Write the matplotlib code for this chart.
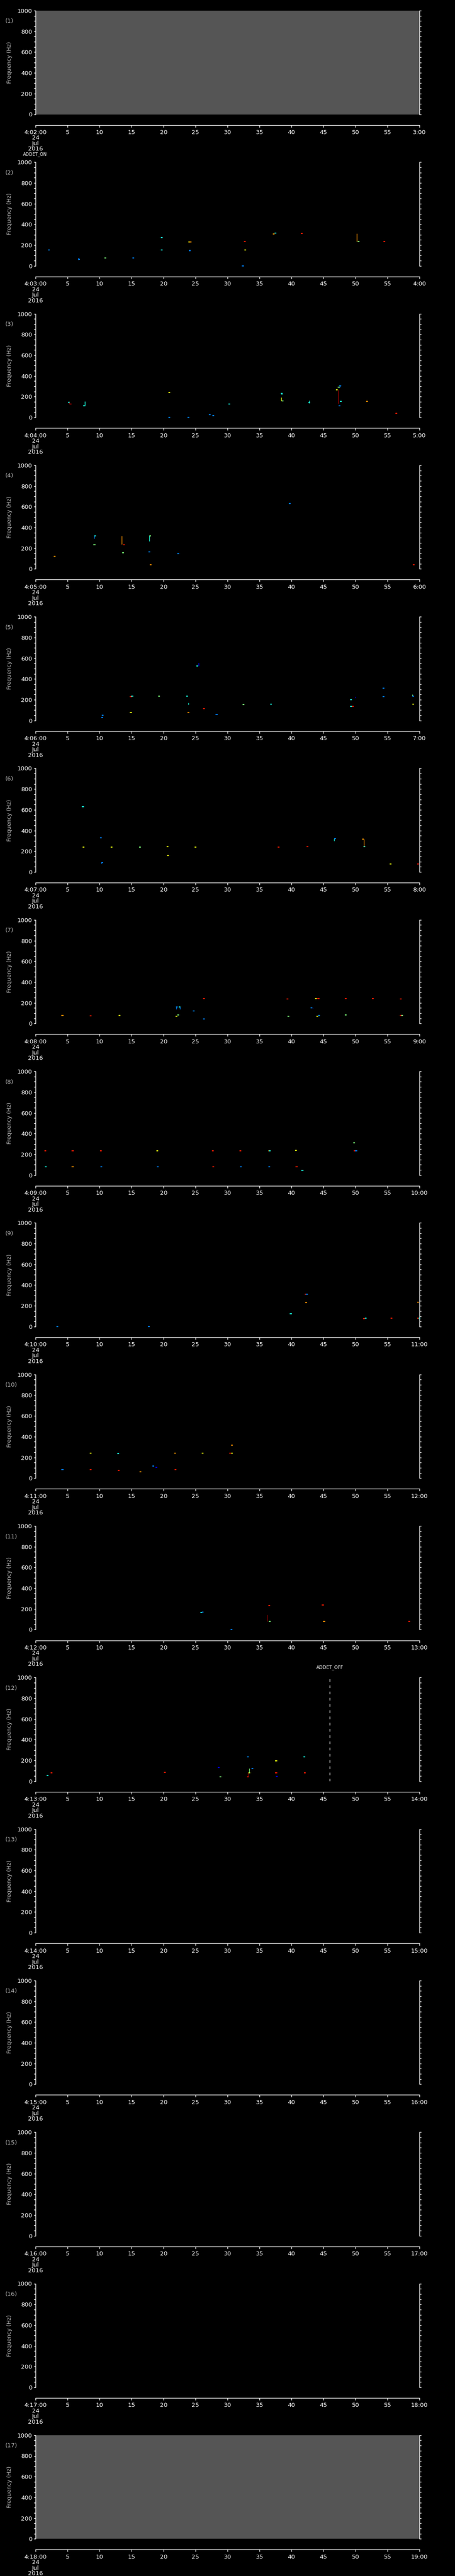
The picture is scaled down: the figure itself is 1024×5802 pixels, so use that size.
import numpy as np
import matplotlib
matplotlib.use("Agg")
import matplotlib.pyplot as plt
from matplotlib.ticker import MultipleLocator

# detected tones per one-minute panel: (second, frequency Hz, intensity code)
p02 = [(2.1, 152, 'b'), (6.8, 62, 'b'), (10.9, 75, 'g'), (15.3, 75, 'b'), (19.7, 272, 'c'),
       (19.7, 152, 'c'), (24.0, 232, 'y'), (24.2, 230, 'o'), (24.1, 150, 'b'), (32.4, 0, 'b'),
       (32.7, 235, 'r'), (32.8, 152, 'y'), (37.2, 308, 'o'), (37.5, 315, 'c'), (41.6, 312, 'r'),
       (50.5, 235, 'g'), (54.5, 235, 'r')]
p03 = [(5.2, 147, 'c'), (5.5, 131, 'R'), (7.6, 112, 'c'), (20.9, 240, 'y'), (20.9, 0, 'b'),
       (23.9, 0, 'b'), (27.2, 26, 'b'), (27.8, 16, 'b'), (30.3, 129, 'c'), (38.5, 232, 'c'),
       (38.6, 158, 'g'), (42.8, 140, 'c'), (47.6, 304, 'b'), (47.4, 290, 'g'), (47.1, 267, 'y'),
       (47.7, 155, 'c'), (47.5, 111, 'b'), (51.8, 155, 'o'), (56.4, 39, 'r')]
p04 = [(3.0, 123, 'o'), (9.3, 318, 'c'), (9.2, 235, 'g'), (13.8, 235, 'r'), (13.7, 156, 'g'),
       (17.9, 318, 'g'), (17.8, 163, 'b'), (18.0, 42, 'o'), (22.3, 148, 'b'), (39.7, 631, 'b'),
       (59.1, 42, 'r')]
p05 = [(10.5, 52, 'b'), (10.4, 27, 'b'), (14.9, 232, 'r'), (15.1, 235, 'c'), (14.9, 77, 'y'),
       (19.3, 235, 'g'), (23.7, 235, 'c'), (23.9, 77, 'o'), (25.3, 525, 'c'), (26.3, 116, 'r'),
       (28.3, 60, 'b'), (32.5, 155, 'g'), (36.8, 158, 'c'), (49.3, 200, 'c'), (49.3, 137, 'c'),
       (49.6, 137, 'r'), (54.4, 311, 'b'), (54.4, 229, 'b'), (59.0, 235, 'b'), (59.0, 158, 'y')]
p06 = [(7.4, 631, 'c'), (10.2, 331, 'b'), (7.5, 240, 'y'), (11.9, 240, 'y'), (16.3, 239, 'g'),
       (20.6, 242, 'y'), (25.0, 239, 'y'), (20.7, 160, 'y'), (10.4, 89, 'b'), (38.0, 240, 'r'),
       (42.5, 243, 'r'), (46.8, 323, 'b'), (51.2, 315, 'o'), (51.4, 243, 'c'), (55.5, 79, 'y'),
       (59.8, 79, 'r')]
p07 = [(4.2, 77, 'o'), (8.6, 76, 'r'), (13.1, 79, 'y'), (22.1, 158, 'b'), (22.5, 158, 'c'),
       (22.0, 69, 'y'), (22.3, 81, 'g'), (24.7, 123, 'b'), (26.3, 239, 'r'), (26.3, 42, 'b'),
       (39.4, 237, 'r'), (39.5, 71, 'g'), (43.8, 242, 'y'), (44.2, 239, 'r'), (43.1, 153, 'b'),
       (44.0, 71, 'y'), (44.3, 77, 'b'), (48.5, 239, 'r'), (48.5, 81, 'g'), (52.7, 239, 'r'),
       (57.1, 237, 'r'), (57.1, 79, 'r'), (57.3, 79, 'g')]
p08 = [(1.5, 235, 'r'), (1.6, 79, 'c'), (5.8, 235, 'r'), (5.8, 81, 'o'), (10.2, 235, 'r'),
       (10.3, 81, 'b'), (19.0, 235, 'y'), (19.1, 81, 'b'), (27.7, 235, 'r'), (27.8, 81, 'r'),
       (32.0, 235, 'r'), (32.1, 81, 'b'), (36.5, 235, 'o'), (36.6, 235, 'c'), (36.5, 81, 'b'),
       (40.7, 239, 'y'), (40.8, 81, 'r'), (41.7, 45, 'c'), (49.8, 313, 'g'), (49.9, 235, 'r'),
       (50.1, 235, 'b')]
p09 = [(3.4, 0, 'b'), (17.7, 0, 'b'), (39.9, 124, 'c'), (42.2, 313, 'r'), (42.4, 312, 'b'),
       (42.3, 232, 'o'), (51.3, 78, 'r'), (51.6, 81, 'c'), (55.6, 81, 'r'), (59.8, 235, 'o'),
       (59.8, 81, 'r'), (60.0, 81, 'c')]
p10 = [(4.2, 81, 'b'), (8.6, 239, 'y'), (8.6, 81, 'r'), (12.9, 237, 'c'), (13.0, 74, 'r'),
       (16.4, 61, 'o'), (18.4, 115, 'b'), (18.9, 105, 'B'), (21.8, 239, 'o'), (21.9, 81, 'r'),
       (26.1, 239, 'y'), (30.4, 242, 'r'), (30.7, 239, 'y'), (30.7, 316, 'o')]
p11 = [(25.9, 166, 'c'), (26.1, 168, 'b'), (36.5, 235, 'r'), (36.6, 81, 'g'), (44.9, 237, 'r'),
       (45.1, 81, 'o'), (58.4, 81, 'r'), (30.6, 3, 'b')]
p12 = [(1.9, 56, 'c'), (2.5, 81, 'r'), (20.2, 83, 'r'), (28.6, 131, 'B'), (28.9, 43, 'g'),
       (33.2, 234, 'b'), (33.2, 43, 'r'), (33.4, 81, 'y'), (33.9, 124, 'b'), (37.6, 197, 'y'),
       (37.6, 81, 'r'), (37.7, 46, 'B'), (42.0, 234, 'c'), (42.1, 81, 'r')]

# vertical sweeps: (second, f from, f to, intensity code)
s02 = [(50.2, 235, 312, 'o'), (24.1, 140, 155, 'b'), (6.7, 60, 75, 'b')]
s03 = [(5.3, 131, 147, 'R'), (7.7, 110, 155, 'c'), (38.4, 160, 192, 'y'), (38.5, 218, 232, 'c'),
       (42.8, 138, 163, 'c'), (47.3, 135, 267, 'R'), (47.6, 290, 304, 'b')]
s04 = [(9.2, 295, 318, 'b'), (13.5, 237, 318, 'o'), (17.8, 266, 318, 'c'), (17.8, 163, 170, 'b')]
s05 = [(23.9, 155, 170, 'c'), (25.5, 525, 557, 'B'), (50.0, 215, 232, 'B'), (58.9, 240, 252, 'g')]
s06 = [(46.7, 298, 320, 'c'), (51.3, 242, 315, 'o'), (10.3, 80, 92, 'b')]
s07 = [(22.0, 139, 158, 'b'), (22.6, 139, 158, 'b'), (43.3, 145, 153, 'B')]
s11 = [(36.2, 81, 142, 'R')]
s12 = [(33.2, 43, 81, 'R'), (33.4, 81, 124, 'g')]

points = {2: p02, 3: p03, 4: p04, 5: p05, 6: p06, 7: p07, 8: p08, 9: p09, 10: p10, 11: p11, 12: p12}
sweeps = {2: s02, 3: s03, 4: s04, 5: s05, 6: s06, 7: s07, 11: s11, 12: s12}
gray_panels = [1, 17]
addet_off_panel = 12
addet_off_sec = 46.0
tick_secs = list(range(0, 61, 5))

levels = {'B': 0.12, 'b': 0.25, 'c': 0.38, 'g': 0.5, 'y': 0.63, 'o': 0.75, 'r': 0.88, 'R': 0.97}
cmap = plt.get_cmap('jet')

W, H = 1024, 5802
fig = plt.figure(figsize=(W / 100, H / 100), dpi=100, facecolor='black')

left_px, width_px = 80, 864
step_px, height_px = 341.3, 233.5
fg = 'white'
lab_gray = '#b8b8b8'

for k in range(1, 18):
    top = 24 + (k - 1) * step_px
    ax = fig.add_axes([left_px / W, 1 - (top + height_px) / H, width_px / W, height_px / H])
    ax.set_facecolor('#555555' if k in gray_panels else 'black')
    ax.set_xlim(0, 60)
    ax.set_ylim(0, 1000)

    for sp in ['left', 'right', 'bottom']:
        ax.spines[sp].set_color(fg)
        ax.spines[sp].set_linewidth(1)
    ax.spines['top'].set_visible(False)
    ax.spines['bottom'].set_position(('outward', 17.3))

    ax.yaxis.set_major_locator(MultipleLocator(200))
    ax.yaxis.set_minor_locator(MultipleLocator(50))
    ax.tick_params(axis='y', which='both', direction='out', left=True, right=True,
                   labelright=False, colors=fg, labelsize=9.5, pad=2.5)
    ax.tick_params(axis='y', which='major', length=3.2, width=1)
    ax.tick_params(axis='y', which='minor', length=2.6, width=1)

    ax.set_xticks(tick_secs)
    labels = [str(s) for s in tick_secs]
    labels[0] = '4:%02d:00\n24\nJul\n2016' % (k + 1)
    labels[-1] = '%d:00' % (k + 2)
    ax.set_xticklabels(labels)
    ax.tick_params(axis='x', direction='out', length=3.5, width=1, colors=fg,
                   labelsize=9.5, pad=4)
    ax.get_xticklabels()[0].set_linespacing(0.95)

    if k in points:
        pts = points[k]
        xs = [p[0] for p in pts]
        ys = [p[1] for p in pts]
        cs = [cmap(levels[p[2]]) for p in pts]
        ax.scatter(xs, ys, marker='_', s=9, linewidths=1.6, c=cs, clip_on=False, zorder=3)
    if k in sweeps:
        for sec, f0, f1, code in sweeps[k]:
            ax.vlines(sec, f0, f1, colors=[cmap(levels[code])], linewidth=1, zorder=3)

    if k == addet_off_panel:
        ax.axvline(addet_off_sec, color=fg, linewidth=1, dashes=(4.3, 5.8))
        ax.text(addet_off_sec, 1000, 'ADDET_OFF', transform=ax.transData, color=fg,
                fontsize=7.5, ha='center', va='bottom')
        ax.texts[-1].set_position((addet_off_sec, 1000 + 17 / height_px * 1000))

    fig.text(12 / W, 1 - (top + 24) / H, '(%d)' % k, color=lab_gray, fontsize=9.5,
             ha='left', va='center')
    fig.text(22 / W, 1 - (top + 117) / H, 'Frequency (Hz)', color=lab_gray, fontsize=9,
             rotation=90, ha='center', va='center')

fig.text(79 / W, 1 - 348 / H, 'ADDET_ON', color=fg, fontsize=7, ha='center', va='center')

fig.savefig('out.png', dpi=100, facecolor='black')
